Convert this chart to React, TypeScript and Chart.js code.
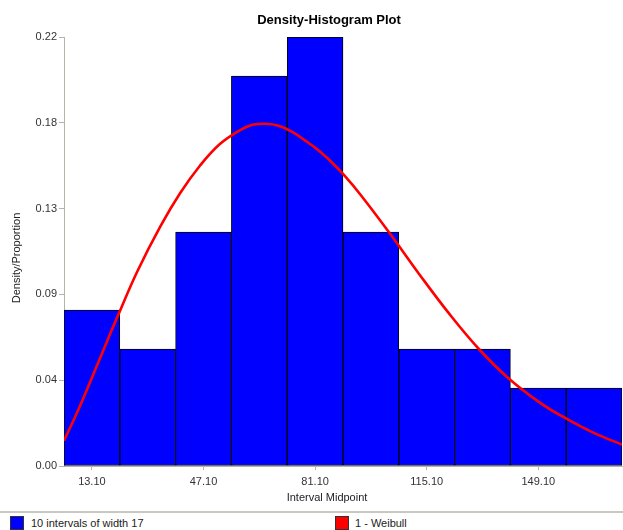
import React, { useEffect, useRef } from "react";
import { Chart, registerables } from "chart.js";

Chart.register(...registerables);

// ---- Data ----
const midpoints = [13.1, 30.1, 47.1, 64.1, 81.1, 98.1, 115.1, 132.1, 149.1, 166.1];
const proportions = [0.08, 0.06, 0.12, 0.2, 0.22, 0.12, 0.06, 0.06, 0.04, 0.04];

const weibullX = [4.6, 9, 15, 21, 27, 34, 40, 46, 52, 58, 62, 66, 70, 74, 78, 82, 86, 90, 95, 104, 113, 122, 131, 140, 150, 158, 166, 174.6];
const weibullY = [0.013, 0.029, 0.053, 0.077, 0.1, 0.123, 0.14, 0.154, 0.165, 0.172, 0.175, 0.1755, 0.1745, 0.1715, 0.167, 0.162, 0.156, 0.149, 0.139, 0.119, 0.098, 0.078, 0.06, 0.045, 0.032, 0.024, 0.017, 0.011];

const xTickValues = [13.1, 47.1, 81.1, 115.1, 149.1];
const yTickValues = [0, 0.044, 0.088, 0.132, 0.176, 0.22];

const chartTitle = "Density-Histogram Plot";
const xTitle = "Interval Midpoint";
const yTitle = "Density/Proportion";
const legendLabels = ["10 intervals of width 17", "1 - Weibull"];
const legendColors = ["#0000ff", "#ff0000"];

const FONT = '"Liberation Sans", Arial, sans-serif';

const titlesPlugin = {
  id: "customTitles",
  afterDraw(chart: any) {
    const ctx = chart.ctx;
    ctx.save();
    ctx.textAlign = "center";
    ctx.textBaseline = "middle";
    ctx.fillStyle = "#000";
    ctx.font = `bold 13px ${FONT}`;
    ctx.fillText(chartTitle, 329, 20);
    ctx.font = `11px ${FONT}`;
    ctx.fillStyle = "#222";
    ctx.fillText(xTitle, 327, 498);
    ctx.translate(17, 258);
    ctx.rotate(-Math.PI / 2);
    ctx.fillText(yTitle, 0, 0);
    ctx.restore();
  },
};

export default function App() {
  const canvasRef = useRef<HTMLCanvasElement | null>(null);

  useEffect(() => {
    document.body.style.margin = "0";
    const canvas = canvasRef.current;
    if (!canvas) return;
    const chart = new Chart(canvas, {
      type: "bar",
      data: {
        datasets: [
          {
            type: "line",
            label: legendLabels[1],
            data: weibullX.map((x, i) => ({ x, y: weibullY[i] })),
            borderColor: "#ff0000",
            borderWidth: 2.6,
            pointRadius: 0,
            tension: 0.4,
            fill: false,
            order: 0,
          } as any,
          {
            type: "bar",
            label: legendLabels[0],
            data: midpoints.map((x, i) => ({ x, y: proportions[i] })),
            backgroundColor: "#0000ff",
            borderColor: "#000000",
            borderWidth: 1,
            borderSkipped: false,
            barPercentage: 1,
            categoryPercentage: 1,
            order: 1,
          } as any,
        ],
      },
      options: {
        responsive: false,
        animation: false,
        layout: { padding: { top: 37, right: 1, left: 0, bottom: 0 } },
        plugins: {
          legend: { display: false },
          title: { display: false },
          tooltip: { enabled: false },
        },
        scales: {
          x: {
            type: "linear",
            min: 4.6,
            max: 174.6,
            offset: false,
            afterBuildTicks: (scale: any) => {
              scale.ticks = xTickValues.map((v) => ({ value: v }));
            },
            afterFit: (scale: any) => {
              scale.height = 44;
            },
            ticks: {
              autoSkip: false,
              maxRotation: 0,
              padding: 5,
              color: "#333",
              font: { family: FONT, size: 11 },
              callback: (v: any) => Number(v).toFixed(2),
            },
            grid: {
              display: true,
              offset: false,
              drawOnChartArea: false,
              drawTicks: true,
              tickLength: 4,
              color: "#b4b4a8",
            },
            border: { display: true, color: "#b4b4a8" },
          },
          y: {
            type: "linear",
            min: 0,
            max: 0.22,
            afterBuildTicks: (scale: any) => {
              scale.ticks = yTickValues.map((v) => ({ value: v }));
            },
            afterFit: (scale: any) => {
              scale.width = 64;
            },
            ticks: {
              autoSkip: false,
              padding: 2,
              color: "#333",
              font: { family: FONT, size: 11 },
              callback: (v: any) => Number(v).toFixed(2),
            },
            grid: {
              display: true,
              offset: false,
              drawOnChartArea: false,
              drawTicks: true,
              tickLength: 5,
              color: "#b4b4a8",
            },
            border: { display: true, color: "#b4b4a8" },
          },
        },
      } as any,
      plugins: [titlesPlugin],
    });
    return () => chart.destroy();
  }, []);

  const legendPos = [10, 335];

  return (
    <div style={{ position: "relative", width: 623, height: 530, background: "#fff", overflow: "hidden", fontFamily: FONT }}>
      <canvas ref={canvasRef} width={623} height={510} style={{ position: "absolute", left: 0, top: 0, width: 623, height: 510 }} />
      <div style={{ position: "absolute", left: 0, top: 511, width: 623, height: 2, background: "#c8c8c0" }} />
      {legendLabels.map((label, i) => (
        <div key={label} style={{ position: "absolute", left: legendPos[i], top: 516, height: 14, display: "flex", alignItems: "center" }}>
          <span style={{ display: "inline-block", width: 12, height: 12, background: legendColors[i], border: "1px solid #333" }} />
          <span style={{ marginLeft: i === 0 ? 7 : 6, fontSize: 11, color: "#222", lineHeight: "14px" }}>{label}</span>
        </div>
      ))}
    </div>
  );
}
